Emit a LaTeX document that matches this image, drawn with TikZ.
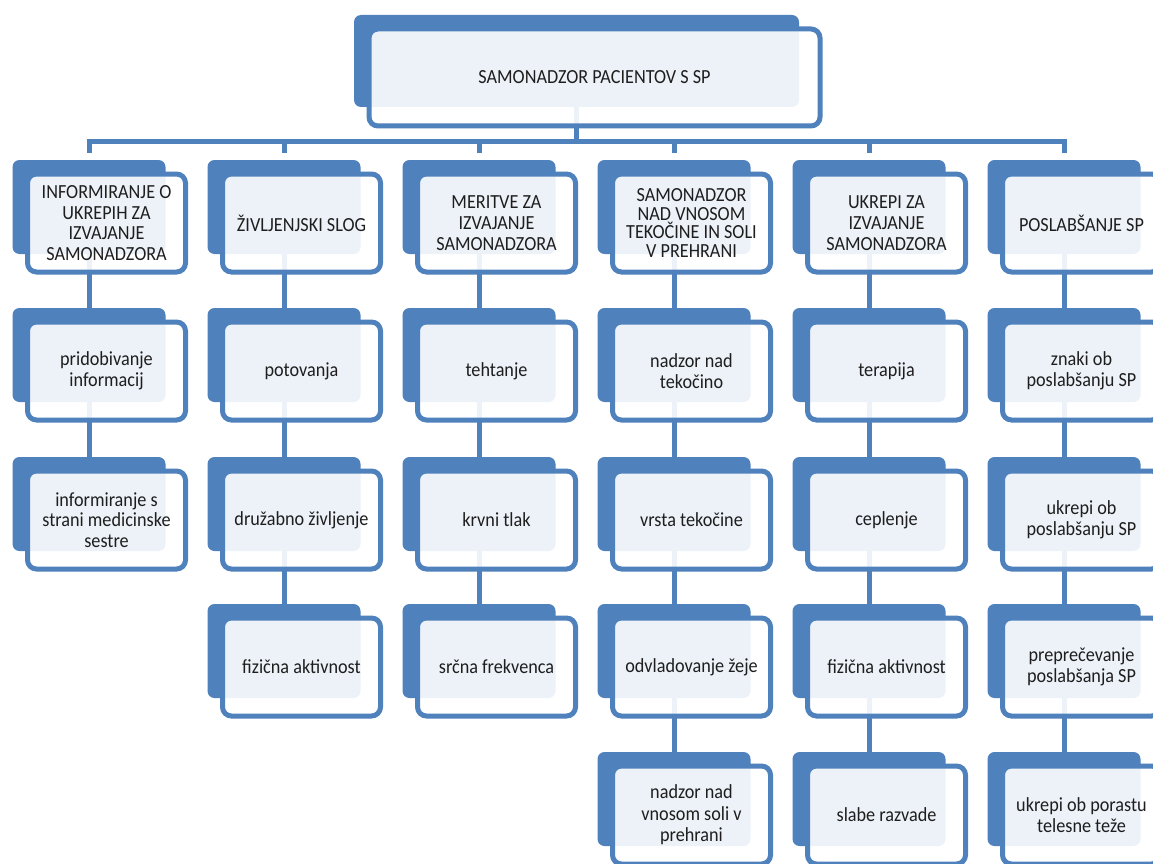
\documentclass[tikz,border=0pt]{standalone}
\usepackage{fontspec}
\setmainfont[FakeStretch=0.91]{Carlito}

\definecolor{accent}{HTML}{4F81BD}
\definecolor{inktext}{HTML}{1E1E1E}

\pgfdeclarelayer{paper}
\pgfdeclarelayer{links}
\pgfsetlayers{paper,links,main}

\tikzset{
  backbox/.style={anchor=north west, fill=accent, draw=none, rounded corners=7pt,
    minimum width=153pt, minimum height=94pt, inner sep=0pt, outer sep=0pt},
  frontbox/.style={anchor=north west, draw=accent, line width=5pt, fill=white,
    fill opacity=0.9, text opacity=1, rounded corners=9pt,
    minimum width=158pt, minimum height=98pt, inner sep=2pt, outer sep=0pt,
    align=center, text=inktext},
  conn/.style={draw=accent, line width=5pt},
}

% #1 line spacing, #2 name, #3 top-left corner of the tab, #4 label
\newcommand\orgbox[4][20.8pt]{%
  \node[backbox] (#2-b) at (#3) {};
  \node[frontbox, font=\fontsize{20pt}{#1}\selectfont]
    (#2) at ([xshift=15pt,yshift=-14pt]#2-b.north west) {#4};
}

\begin{document}
\begin{tikzpicture}[x=1pt,y=-1pt]
  \useasboundingbox (0,0) rectangle (1153,864);
  \begin{pgfonlayer}{paper}
    \fill[white] (0,0) rectangle (1153,864);
  \end{pgfonlayer}
  \clip (0,0) rectangle (1153,864);

  % root
  \node[backbox, minimum width=445pt, minimum height=92pt] (top-b) at (354,15) {};
  \node[frontbox, minimum width=451pt, minimum height=97pt,
        font=\fontsize{20pt}{20.8pt}\selectfont]
    (top) at ([xshift=15pt,yshift=-14pt]top-b.north west) {SAMONADZOR PACIENTOV S SP};

  % column 1
  \orgbox{c1a}{12.5,160}{INFORMIRANJE O\\UKREPIH ZA\\IZVAJANJE\\SAMONADZORA}
  \orgbox{c1b}{12.5,308}{pridobivanje\\informacij}
  \orgbox{c1c}{12.5,457}{informiranje s\\strani medicinske\\sestre}

  % column 2
  \orgbox{c2a}{207.5,160}{ŽIVLJENJSKI SLOG}
  \orgbox{c2b}{207.5,308}{potovanja}
  \orgbox{c2c}{207.5,457}{družabno življenje}
  \orgbox{c2d}{207.5,604}{fizična aktivnost}

  % column 3
  \orgbox{c3a}{402.5,160}{MERITVE ZA\\IZVAJANJE\\SAMONADZORA}
  \orgbox{c3b}{402.5,308}{tehtanje}
  \orgbox{c3c}{402.5,457}{krvni tlak}
  \orgbox{c3d}{402.5,604}{srčna frekvenca}

  % column 4
  \orgbox[18.5pt]{c4a}{597.5,160}{SAMONADZOR\\NAD VNOSOM\\TEKOČINE IN SOLI\\V PREHRANI}
  \orgbox{c4b}{597.5,308}{nadzor nad\\tekočino}
  \orgbox{c4c}{597.5,457}{vrsta tekočine}
  \orgbox{c4d}{597.5,604}{odvladovanje žeje}
  \orgbox[21.5pt]{c4e}{597.5,752}{nadzor nad\\vnosom soli v\\prehrani}

  % column 5
  \orgbox{c5a}{792.5,160}{UKREPI ZA\\IZVAJANJE\\SAMONADZORA}
  \orgbox{c5b}{792.5,308}{terapija}
  \orgbox{c5c}{792.5,457}{ceplenje}
  \orgbox{c5d}{792.5,604}{fizična aktivnost}
  \orgbox{c5e}{792.5,752}{slabe razvade}

  % column 6
  \orgbox{c6a}{987.5,160}{POSLABŠANJE SP}
  \orgbox{c6b}{987.5,308}{znaki ob\\poslabšanju SP}
  \orgbox{c6c}{987.5,457}{ukrepi ob\\poslabšanju SP}
  \orgbox{c6d}{987.5,604}{preprečevanje\\poslabšanja SP}
  \orgbox{c6e}{987.5,752}{ukrepi ob porastu\\telesne teže}

  % connectors, kept behind the boxes
  \coordinate (bar) at (0,141);
  \begin{pgfonlayer}{links}
    \foreach \c in {c1a,c2a,c3a,c4a,c5a,c6a}
      \draw[conn] (top-b.center) -- (top-b.center |- bar) -| ([yshift=7pt]\c-b.north);
    \draw[conn] (c1a-b.center) -- (c1b-b.center) -- (c1c-b.center);
    \draw[conn] (c2a-b.center) -- (c2b-b.center) -- (c2c-b.center) -- (c2d-b.center);
    \draw[conn] (c3a-b.center) -- (c3b-b.center) -- (c3c-b.center) -- (c3d-b.center);
    \draw[conn] (c4a-b.center) -- (c4b-b.center) -- (c4c-b.center) -- (c4d-b.center) -- (c4e-b.center);
    \draw[conn] (c5a-b.center) -- (c5b-b.center) -- (c5c-b.center) -- (c5d-b.center) -- (c5e-b.center);
    \draw[conn] (c6a-b.center) -- (c6b-b.center) -- (c6c-b.center) -- (c6d-b.center) -- (c6e-b.center);
  \end{pgfonlayer}
\end{tikzpicture}
\end{document}
